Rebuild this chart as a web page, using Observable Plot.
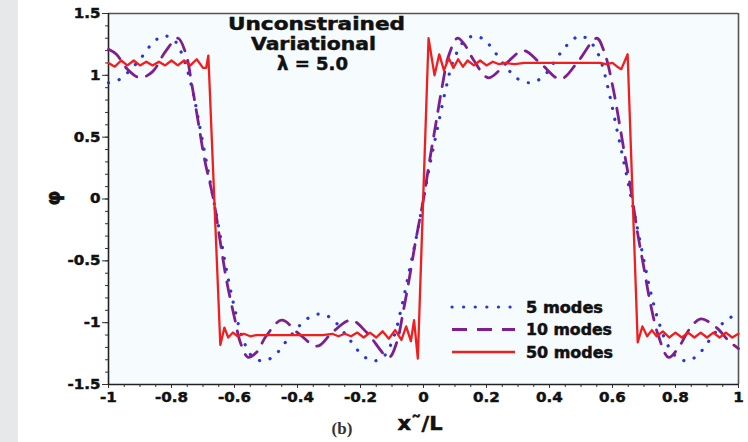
<!DOCTYPE html>
<html>
<head>
<meta charset="utf-8">
<script src="https://cdn.jsdelivr.net/npm/d3@7"></script>
<script src="https://cdn.jsdelivr.net/npm/@observablehq/plot@0.6"></script>
<style>
  html, body { margin: 0; padding: 0; background: #ffffff; }
  #wrap { position: relative; width: 748px; height: 442px; overflow: hidden; background: #ffffff; }
  #band { position: absolute; left: 0; top: 0; width: 18px; height: 442px; background: #e7e8ea; }
  #chart { position: absolute; left: 0; top: 0; }
  #overlay { position: absolute; left: 0; top: 0; pointer-events: none; }
  #chart svg text { font-family: "DejaVu Sans", sans-serif; }
  #chart g[aria-label$="tick label"] text { stroke: #111; stroke-width: 0.45px; }
  #overlay text.heavy { stroke: #111; stroke-width: 0.5px; }
</style>
</head>
<body>
<div id="wrap">
  <div id="band"></div>
  <div id="chart"></div>
</div>
<script>
// ---- data ----
const xDomain = [-1, 1];
const yDomain = [-1.5, 1.5];
const xTicks = [-1, -0.8, -0.6, -0.4, -0.2, 0, 0.2, 0.4, 0.6, 0.8, 1];
const yTicks = [-1.5, -1, -0.5, 0, 0.5, 1, 1.5];
const seriesNames = ["5 modes", "10 modes", "50 modes"];
const seriesColors = ["#2b35d8", "#7d1f8f", "#f01e1e"];
const titleLines = ["Unconstrained", "Variational", "\u03bb = 5.0"];

const modes5X = [-1.0, -0.97, -0.94, -0.90, -0.86, -0.825, -0.79, -0.765, -0.735, -0.71, -0.69, -0.667,
  -0.645, -0.625, -0.60, -0.575, -0.545, -0.51, -0.475, -0.42, -0.37, -0.333, -0.295, -0.24, -0.195, -0.16,
  -0.125, -0.095, -0.07, -0.045, -0.022, 0.0, 0.022, 0.045, 0.07, 0.095, 0.13, 0.165, 0.2, 0.255, 0.30,
  0.34, 0.38, 0.435, 0.47, 0.5, 0.54, 0.565, 0.59, 0.615, 0.64, 0.66, 0.68, 0.70, 0.72, 0.745, 0.775,
  0.805, 0.84, 0.875, 0.92, 0.96, 1.0];
const modes5Y = [0.94, 0.96, 1.02, 1.13, 1.26, 1.32, 1.28, 1.16, 0.90, 0.58, 0.31, 0.0,
  -0.30, -0.58, -0.88, -1.12, -1.27, -1.31, -1.27, -1.10, -0.97, -0.93, -0.96, -1.12, -1.26, -1.31,
  -1.27, -1.12, -0.88, -0.58, -0.30, 0.0, 0.30, 0.58, 0.88, 1.12, 1.28, 1.32, 1.27, 1.09, 0.97,
  0.94, 0.99, 1.18, 1.28, 1.32, 1.24, 1.10, 0.85, 0.55, 0.25, 0.0, -0.25, -0.50, -0.74, -0.98, -1.18,
  -1.28, -1.31, -1.25, -1.10, -0.98, -0.93];

const modes10X = [-1.0, -0.975, -0.94, -0.90, -0.86, -0.82, -0.78, -0.755, -0.735, -0.715, -0.695, -0.667,
  -0.645, -0.625, -0.60, -0.58, -0.557, -0.53, -0.50, -0.45, -0.40, -0.337, -0.29, -0.23, -0.18, -0.11,
  -0.085, -0.065, -0.045, -0.025, 0.0, 0.02, 0.04, 0.06, 0.08, 0.108, 0.13, 0.16, 0.206, 0.26, 0.317,
  0.37, 0.435, 0.49, 0.55, 0.575, 0.60, 0.62, 0.64, 0.66, 0.68, 0.70, 0.72, 0.745, 0.778, 0.81, 0.845,
  0.88, 0.93, 0.97, 1.0];
const modes10Y = [1.21, 1.17, 1.05, 0.98, 1.03, 1.19, 1.30, 1.18, 0.92, 0.62, 0.32, 0.0,
  -0.35, -0.66, -0.96, -1.17, -1.28, -1.24, -1.11, -0.98, -1.08, -1.19, -1.08, -0.98, -1.08, -1.28,
  -1.16, -0.92, -0.64, -0.34, 0.0, 0.32, 0.62, 0.92, 1.16, 1.30, 1.25, 1.12, 0.98, 1.09, 1.20,
  1.10, 0.97, 1.11, 1.30, 1.18, 0.92, 0.64, 0.34, 0.05, -0.28, -0.56, -0.84, -1.10, -1.28, -1.20, -1.05,
  -0.97, -1.04, -1.15, -1.21];

const modes50X = [-1.0, -0.98, -0.96, -0.94, -0.92, -0.90, -0.88, -0.86, -0.84, -0.82, -0.80, -0.78, -0.76,
  -0.74, -0.72, -0.70, -0.69, -0.683, -0.645, -0.632, -0.62, -0.605, -0.59, -0.57, -0.55, -0.53, -0.50,
  -0.47, -0.44, -0.41, -0.38, -0.35, -0.32, -0.29, -0.27, -0.25, -0.23, -0.21, -0.19, -0.17, -0.15, -0.13,
  -0.11, -0.09, -0.07, -0.055, -0.04, -0.03, -0.018, 0.016, 0.035, 0.05, 0.065, 0.08, 0.095, 0.11, 0.125,
  0.14, 0.16, 0.18, 0.20, 0.22, 0.24, 0.26, 0.29, 0.32, 0.36, 0.40, 0.44, 0.48, 0.52, 0.56, 0.58, 0.60,
  0.615, 0.628, 0.648, 0.68, 0.695, 0.71, 0.725, 0.74, 0.76, 0.78, 0.80, 0.82, 0.84, 0.86, 0.88, 0.90,
  0.92, 0.94, 0.96, 0.98, 1.0];
const modes50Y = [1.10, 1.07, 1.12, 1.08, 1.12, 1.08, 1.11, 1.08, 1.11, 1.08, 1.12, 1.08, 1.12,
  1.08, 1.13, 1.06, 1.06, 1.16, -1.18, -1.04, -1.12, -1.08, -1.11, -1.09, -1.11, -1.10, -1.10,
  -1.10, -1.10, -1.10, -1.10, -1.10, -1.10, -1.09, -1.11, -1.09, -1.11, -1.08, -1.12, -1.08, -1.12, -1.07,
  -1.13, -1.06, -1.14, -1.03, -1.15, -0.98, -1.29, 1.30, 1.00, 1.17, 1.04, 1.14, 1.06, 1.13, 1.07,
  1.12, 1.08, 1.12, 1.08, 1.11, 1.09, 1.10, 1.09, 1.10, 1.10, 1.10, 1.10, 1.10, 1.10, 1.10, 1.09, 1.10,
  1.07, 1.05, 1.17, -1.16, -1.03, -1.11, -1.06, -1.11, -1.07, -1.12, -1.08, -1.12, -1.08, -1.12, -1.08, -1.12,
  -1.08, -1.12, -1.08, -1.12, -1.09];

// ---- build tables ----
const rows = (xs, ys) => xs.map((x, i) => ({x, y: ys[i]}));
const data5 = rows(modes5X, modes5Y);
const data10 = rows(modes10X, modes10Y);
const data50 = rows(modes50X, modes50Y);
const xMinor = d3.range(-20, 21).map(i => i * 0.05);
const yMinor = d3.range(-15, 16).map(i => i * 0.1);
const fmt = d => String(d);

const chart = Plot.plot({
  width: 748,
  height: 442,
  marginTop: 13,
  marginBottom: 58,
  marginLeft: 108,
  marginRight: 10,
  style: {background: "transparent", fontFamily: "DejaVu Sans", fontSize: "14px", fontWeight: "bold", color: "#111"},
  x: {domain: xDomain, label: null},
  y: {domain: yDomain, label: null},
  marks: [
    Plot.frame({fill: "#f6fbfd", stroke: "none"}),
    Plot.axisX(xMinor, {tickSize: 3, tickFormat: () => "", stroke: "#333", label: null}),
    Plot.axisX(xTicks, {tickSize: 4, tickPadding: 4, tickFormat: fmt, stroke: "#333", label: null, fontSize: 14, fontWeight: "bold"}),
    Plot.axisY(yMinor, {tickSize: 3, tickFormat: () => "", stroke: "#333", label: null}),
    Plot.axisY(yTicks, {tickSize: 6, tickPadding: 2, tickFormat: fmt, stroke: "#333", label: null, fontSize: 14, fontWeight: "bold"}),
    Plot.ruleY([yDomain[1]], {stroke: "#555", strokeWidth: 1.6}),
    Plot.ruleX([xDomain[1]], {stroke: "#555", strokeWidth: 1.6}),
    Plot.ruleX([xDomain[0]], {stroke: "#222", strokeWidth: 1.6}),
    Plot.ruleY([yDomain[0]], {stroke: "#222", strokeWidth: 1.6}),
    Plot.line(data5, {x: "x", y: "y", curve: "catmull-rom", stroke: seriesColors[0], strokeWidth: 3.2,
      strokeDasharray: "0.1 11", strokeLinecap: "round"}),
    Plot.line(data10, {x: "x", y: "y", curve: "catmull-rom", stroke: seriesColors[1], strokeWidth: 2.8,
      strokeDasharray: "15 10"}),
    Plot.line(data50, {x: "x", y: "y", curve: "linear", stroke: seriesColors[2], strokeWidth: 2.3,
      strokeLinejoin: "round"})
  ]
});
document.getElementById("chart").appendChild(chart);

// slight horizontal stretch of tick labels, as in the reference's wide bold face
chart.querySelectorAll('g[aria-label$="tick label"] text').forEach(t => {
  const tr = t.getAttribute("transform") || "";
  t.setAttribute("transform", tr + " scale(1.08,1)");
});

// ---- overlay: title, legend, axis labels, caption ----
const NS = "http://www.w3.org/2000/svg";
const ov = document.createElementNS(NS, "svg");
ov.setAttribute("id", "overlay");
ov.setAttribute("width", 748);
ov.setAttribute("height", 442);
document.getElementById("wrap").appendChild(ov);

function txt(s, x, y, opts = {}) {
  const t = document.createElementNS(NS, "text");
  t.textContent = s;
  t.setAttribute("x", x);
  t.setAttribute("y", y);
  t.style.fontFamily = opts.family || "'DejaVu Sans', sans-serif";
  t.style.fontWeight = opts.weight || "bold";
  t.style.fontSize = (opts.size || 16) + "px";
  t.setAttribute("fill", opts.fill || "#111");
  t.setAttribute("text-anchor", opts.anchor || "start");
  if (opts.heavy !== false) t.setAttribute("class", "heavy");
  if (opts.len) { t.setAttribute("textLength", opts.len); t.setAttribute("lengthAdjust", "spacingAndGlyphs"); }
  if (opts.transform) t.setAttribute("transform", opts.transform);
  ov.appendChild(t);
  return t;
}

// title
const titleCx = [316.5, 313.5, 312.5];
const titleBase = [30, 50, 70];
const titleLen = [177, 125, 71];
titleLines.forEach((s, i) => txt(s, titleCx[i], titleBase[i], {size: 18.5, anchor: "middle", len: titleLen[i]}));

// legend
const legY = [307, 329.5, 352];
const legDash = ["0.1 11.5", "15 10", null];
const legW = [3.2, 2.8, 2.3];
const legLen = [77, 86, 87];
seriesNames.forEach((s, i) => {
  const l = document.createElementNS(NS, "line");
  l.setAttribute("x1", 452); l.setAttribute("x2", 515);
  l.setAttribute("y1", legY[i]); l.setAttribute("y2", legY[i]);
  l.setAttribute("stroke", seriesColors[i]);
  l.setAttribute("stroke-width", legW[i]);
  if (legDash[i]) l.setAttribute("stroke-dasharray", legDash[i]);
  if (i === 0) l.setAttribute("stroke-linecap", "round");
  ov.appendChild(l);
  txt(s, 526, legY[i] + 5.5, {size: 15, len: legLen[i]});
});

// axis labels and caption
txt("x\u02dc/L", 420, 430, {size: 20, anchor: "middle", len: 45});
txt("\u03c6", 0, 0, {size: 19, anchor: "middle", transform: "translate(60,198) rotate(-90)"});
txt("(b)", 342, 434, {size: 17, anchor: "middle", family: "'Liberation Serif', 'DejaVu Serif', serif", weight: "bold", fill: "#333", heavy: false});
</script>
</body>
</html>
